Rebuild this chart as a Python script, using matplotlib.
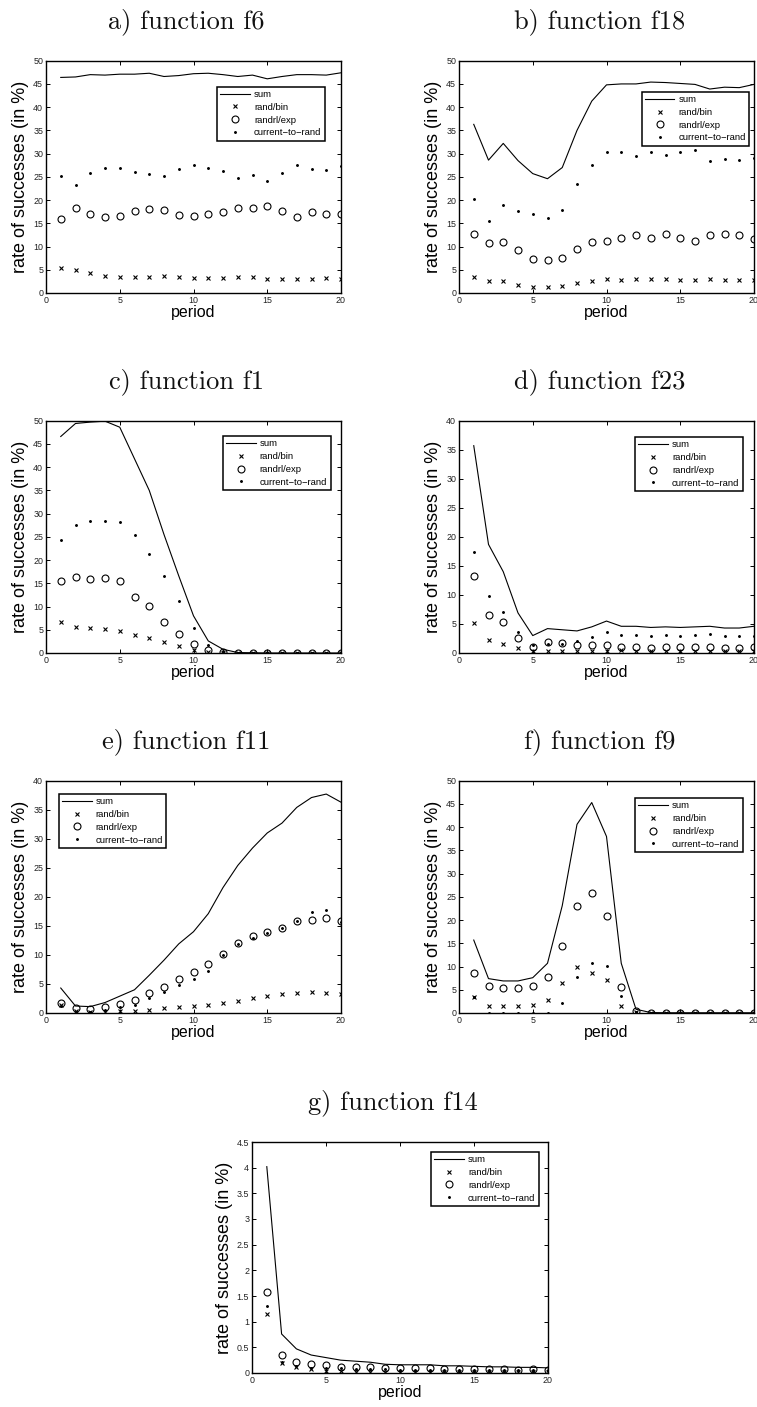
import matplotlib
matplotlib.use("Agg")
import matplotlib.pyplot as plt
import numpy as np

periods = list(range(1, 21))

titles = ["a) function f6", "b) function f18", "c) function f1", "d) function f23",
          "e) function f11", "f) function f9", "g) function f14"]
series_labels = ["sum", "rand/bin", "randrl/exp", "current\u2212to\u2212rand"]

# panel a: f6
a_sum = [46.4, 46.5, 47.0, 46.9, 47.1, 47.1, 47.3, 46.6, 46.8, 47.2, 47.3, 47.0, 46.6, 46.9, 46.1, 46.6, 47.0, 47.0, 46.9, 47.4]
a_bin = [5.3, 4.9, 4.2, 3.7, 3.5, 3.5, 3.5, 3.6, 3.5, 3.2, 3.2, 3.3, 3.5, 3.4, 3.0, 3.1, 3.1, 3.0, 3.2, 3.1]
a_exp = [16.0, 18.4, 17.0, 16.3, 16.5, 17.6, 18.0, 17.8, 16.8, 16.5, 17.0, 17.4, 18.4, 18.2, 18.8, 17.7, 16.3, 17.4, 17.1, 16.9]
a_ctr = [25.1, 23.3, 25.9, 26.9, 27.0, 26.0, 25.6, 25.2, 26.6, 27.5, 27.0, 26.2, 24.7, 25.3, 24.2, 25.8, 27.6, 26.6, 26.5, 27.4]

# panel b: f18
b_sum = [36.3, 28.6, 32.2, 28.5, 25.7, 24.6, 27.0, 35.0, 41.3, 44.8, 45.0, 45.0, 45.4, 45.3, 45.1, 44.9, 43.9, 44.3, 44.2, 44.9]
b_bin = [3.5, 2.5, 2.5, 1.7, 1.3, 1.3, 1.4, 2.1, 2.5, 3.0, 2.8, 3.0, 3.0, 3.0, 2.8, 2.8, 3.0, 2.9, 2.9, 2.9]
b_exp = [12.7, 10.7, 10.9, 9.2, 7.3, 7.2, 7.6, 9.4, 11.0, 11.2, 11.8, 12.5, 11.9, 12.7, 11.9, 11.3, 12.5, 12.6, 12.5, 11.7]
b_ctr = [20.3, 15.4, 19.0, 17.6, 16.9, 16.1, 17.8, 23.4, 27.6, 30.4, 30.4, 29.5, 30.4, 29.6, 30.3, 30.7, 28.4, 28.8, 28.7, 29.0]

# panel c: f1
c_sum = [46.6, 49.4, 49.7, 49.9, 48.6, 41.8, 35.0, 25.5, 16.6, 8.0, 2.6, 0.8, 0.1, 0.05, 0.0, 0.0, 0.0, 0.0, 0.0, 0.0]
c_bin = [6.6, 5.6, 5.4, 5.1, 4.8, 3.8, 3.3, 2.4, 1.5, 0.7, 0.2, 0.1, 0.0, 0.0, 0.0, 0.0, 0.0, 0.0, 0.0, 0.0]
c_exp = [15.6, 16.3, 15.9, 16.1, 15.4, 12.1, 10.1, 6.6, 4.0, 1.9, 0.6, 0.2, 0.05, 0.05, 0.05, 0.05, 0.05, 0.05, 0.05, 0.05]
c_ctr = [24.3, 27.6, 28.4, 28.4, 28.3, 25.4, 21.3, 16.6, 11.2, 5.4, 1.8, 0.5, 0.1, 0.1, 0.1, 0.1, 0.1, 0.1, 0.1, 0.1]

# panel d: f23
d_sum = [35.7, 18.7, 14.0, 6.9, 3.0, 4.2, 4.0, 3.8, 4.5, 5.5, 4.6, 4.6, 4.4, 4.5, 4.4, 4.5, 4.6, 4.3, 4.3, 4.6]
d_bin = [5.2, 2.2, 1.6, 0.9, 0.4, 0.4, 0.4, 0.4, 0.4, 0.4, 0.5, 0.4, 0.4, 0.4, 0.4, 0.4, 0.4, 0.4, 0.4, 0.4]
d_exp = [13.2, 6.6, 5.4, 2.5, 1.1, 1.9, 1.8, 1.4, 1.4, 1.3, 1.0, 1.0, 0.9, 1.0, 1.0, 1.0, 1.0, 0.9, 0.9, 1.0]
d_ctr = [17.4, 9.9, 7.0, 3.6, 1.3, 1.5, 1.6, 2.0, 2.7, 3.6, 3.1, 3.1, 3.0, 3.1, 2.9, 3.1, 3.2, 3.0, 3.0, 3.0]

# panel e: f11
e_sum = [4.3, 1.2, 1.1, 1.8, 2.9, 4.0, 6.5, 9.1, 11.9, 14.0, 17.1, 21.6, 25.4, 28.4, 31.0, 32.7, 35.4, 37.1, 37.7, 36.3]
e_bin = [1.4, 0.3, 0.2, 0.2, 0.3, 0.4, 0.6, 0.9, 1.0, 1.2, 1.4, 1.7, 2.0, 2.6, 3.0, 3.2, 3.5, 3.6, 3.4, 3.2]
e_exp = [1.8, 0.8, 0.7, 1.1, 1.6, 2.3, 3.4, 4.5, 5.9, 7.0, 8.4, 10.1, 12.0, 13.2, 13.9, 14.7, 15.9, 16.0, 16.4, 15.8]
e_ctr = [1.2, 0.1, 0.1, 0.5, 1.0, 1.4, 2.6, 3.7, 4.9, 5.8, 7.3, 10.0, 11.9, 13.0, 13.8, 14.6, 15.8, 17.4, 17.8, 15.6]

# panel f: f9
f_sum = [15.7, 7.4, 6.9, 6.9, 7.6, 10.7, 23.1, 40.6, 45.3, 38.0, 10.7, 0.8, 0.1, 0.05, 0.05, 0.05, 0.05, 0.05, 0.05, 0.05]
f_bin = [3.5, 1.6, 1.4, 1.5, 1.8, 2.9, 6.5, 9.9, 8.7, 7.1, 1.6, 0.2, 0.0, 0.0, 0.0, 0.0, 0.0, 0.0, 0.0, 0.0]
f_exp = [8.7, 5.8, 5.4, 5.4, 5.8, 7.7, 14.5, 23.0, 25.8, 20.9, 5.5, 0.4, 0.05, 0.05, 0.05, 0.05, 0.05, 0.05, 0.05, 0.05]
f_ctr = [3.4, 0.1, 0.1, 0.1, 0.1, 0.1, 2.1, 7.8, 10.8, 10.1, 3.6, 0.2, 0.0, 0.0, 0.0, 0.0, 0.0, 0.0, 0.0, 0.0]

# panel g: f14
g_sum = [4.02, 0.76, 0.47, 0.35, 0.30, 0.25, 0.23, 0.21, 0.17, 0.16, 0.16, 0.16, 0.14, 0.14, 0.13, 0.12, 0.12, 0.11, 0.11, 0.10]
g_bin = [1.14, 0.20, 0.12, 0.08, 0.04, 0.03, 0.02, 0.02, 0.01, 0.01, 0.01, 0.01, 0.01, 0.01, 0.01, 0.01, 0.01, 0.01, 0.01, 0.01]
g_exp = [1.57, 0.35, 0.22, 0.17, 0.15, 0.12, 0.12, 0.11, 0.09, 0.09, 0.09, 0.10, 0.08, 0.08, 0.07, 0.07, 0.07, 0.06, 0.07, 0.06]
g_ctr = [1.31, 0.22, 0.13, 0.10, 0.10, 0.09, 0.08, 0.07, 0.07, 0.06, 0.06, 0.06, 0.05, 0.05, 0.05, 0.05, 0.05, 0.05, 0.05, 0.05]

y_max = [50, 50, 50, 40, 40, 50, 4.5]
y_step = [5, 5, 5, 5, 5, 5, 0.5]

W, H = 757, 1407
fig = plt.figure(figsize=(W / 100, H / 100), dpi=100)
fig.patch.set_facecolor("white")

# axes rectangles in pixels (left, top, width, height)
rects = [(46, 60.7, 295, 232.3), (459, 60.7, 295, 232.3),
         (46, 420.7, 295, 232.3), (459, 420.7, 295, 232.3),
         (46, 780.7, 295, 232.3), (459, 780.7, 295, 232.3),
         (252, 1142, 296, 231)]
# legend upper-left corner in axes fraction
leg_pos = [(0.58, 0.888), (0.619, 0.866), (0.60, 0.934), (0.597, 0.93),
           (0.044, 0.943), (0.597, 0.925), (0.605, 0.957)]

panels = [(a_sum, a_bin, a_exp, a_ctr), (b_sum, b_bin, b_exp, b_ctr),
          (c_sum, c_bin, c_exp, c_ctr), (d_sum, d_bin, d_exp, d_ctr),
          (e_sum, e_bin, e_exp, e_ctr), (f_sum, f_bin, f_exp, f_ctr),
          (g_sum, g_bin, g_exp, g_ctr)]

sans = ["Liberation Sans", "DejaVu Sans"]

for i, (data, rect) in enumerate(zip(panels, rects)):
    l, t, w, h = rect
    ax = fig.add_axes([l / W, 1 - (t + h) / H, w / W, h / H])
    s, b, e, c = data
    ax.plot(periods, s, "-", color="black", lw=0.8, label=series_labels[0])
    ax.plot(periods, b, "x", color="black", ms=3.2, mew=0.8, label=series_labels[1])
    ax.plot(periods, e, "o", color="black", mfc="none", ms=5, mew=0.8, label=series_labels[2])
    ax.plot(periods, c, ".", color="black", ms=2.2, label=series_labels[3])
    ax.set_xlim(0, 20)
    ax.set_ylim(0, y_max[i])
    ax.set_xticks([0, 5, 10, 15, 20])
    ax.set_yticks(np.arange(0, y_max[i] + 1e-9, y_step[i]))
    ax.set_yticklabels([("%g" % v) for v in np.arange(0, y_max[i] + 1e-9, y_step[i])])
    ax.tick_params(direction="in", top=True, right=True, length=3, width=0.7,
                   labelsize=6.4, labelcolor="#222222", pad=2)
    for lab in ax.get_xticklabels() + ax.get_yticklabels():
        lab.set_family(sans)
    for sp in ax.spines.values():
        sp.set_linewidth(1.0)
        sp.set_color("black")
    ax.set_xlabel("period", fontsize=11.5, family=sans, labelpad=0)
    ax.set_ylabel("rate of successes (in %)", fontsize=13, family=sans, labelpad=3)
    leg = ax.legend(loc="upper left", bbox_to_anchor=leg_pos[i],
                    prop={"family": sans, "size": 6.8},
                    handlelength=3.1, handletextpad=0.45, borderpad=0.35,
                    labelspacing=0.4, borderaxespad=0, fancybox=False,
                    framealpha=1, edgecolor="black", markerscale=1.0)
    leg.get_frame().set_linewidth(1.1)
    # title
    cx = l + w / 2 - 7
    fig.text(cx / W, 1 - (t - 32.7) / H, titles[i], ha="center", va="baseline",
             family="cmr10", fontsize=19, color="#111111")

fig.savefig("out.png", dpi=100)
